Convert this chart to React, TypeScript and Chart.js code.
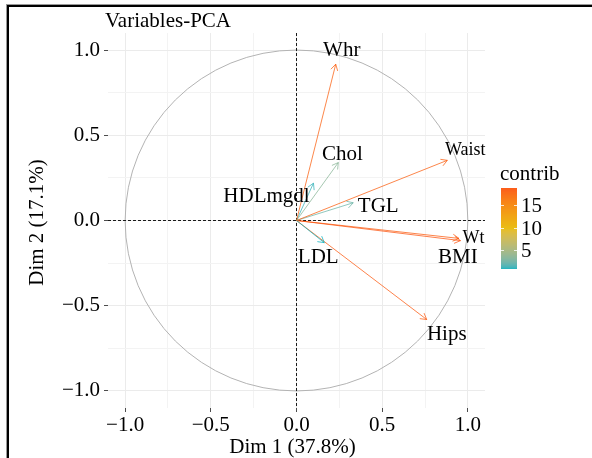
import React, { useEffect, useRef } from 'react';
import { Chart, registerables } from 'chart.js';

Chart.register(...registerables);

// ---- data ----
const VARIABLES = ['Whr', 'Chol', 'Waist', 'TGL', 'HDLmgdl', 'LDL', 'Wt', 'BMI', 'Hips'];
const DIM1 = [0.229, 0.244, 0.88, 0.331, 0.099, 0.162, 0.957, 0.948, 0.76];
const DIM2 = [0.917, 0.34, 0.353, 0.104, 0.219, -0.13, -0.118, -0.105, -0.581];
const CONTRIB = [18.1, 3.5, 18.2, 2.4, 1.2, 0.9, 18.8, 18.4, 18.5];
const AXIS_TICKS = [-1, -0.5, 0, 0.5, 1];
const LEGEND_TICKS = [5, 10, 15];
const GRADIENT = ['#00AFBB', '#E7B800', '#FC4E07'];
const TITLE = 'Variables-PCA';
const X_TITLE = 'Dim 1 (37.8%)';
const Y_TITLE = 'Dim 2 (17.1%)';
const LEGEND_TITLE = 'contrib';

// ---- label placement (pixel offsets from arrow tip: dx to text centre, dy to baseline) ----
const LABEL_STYLE: Record<string, { dx: number; dy: number; size: number }> = {
  Whr: { dx: 6, dy: -8, size: 21 },
  Chol: { dx: 4, dy: -3, size: 21 },
  Waist: { dx: 18, dy: -5, size: 18 },
  TGL: { dx: 25, dy: 9, size: 21 },
  HDLmgdl: { dx: -47, dy: 19, size: 21 },
  LDL: { dx: -6, dy: 20, size: 21 },
  Wt: { dx: 13, dy: 2, size: 18 },
  BMI: { dx: -1, dy: 24.5, size: 21 },
  Hips: { dx: 20, dy: 20, size: 21 },
};

const FONT = '"Liberation Serif", "Times New Roman", serif';
const ARROW_ALPHA = 0.72;

// ---- colour helpers (Lab interpolation like ggplot's gradientn) ----
function hexToRgb(h: string) {
  return [parseInt(h.slice(1, 3), 16), parseInt(h.slice(3, 5), 16), parseInt(h.slice(5, 7), 16)];
}
function toLin(c: number) {
  c /= 255;
  return c <= 0.04045 ? c / 12.92 : Math.pow((c + 0.055) / 1.055, 2.4);
}
function fromLin(c: number) {
  const v = c <= 0.0031308 ? 12.92 * c : 1.055 * Math.pow(c, 1 / 2.4) - 0.055;
  return Math.round(Math.max(0, Math.min(1, v)) * 255);
}
const Xn = 0.95047, Yn = 1, Zn = 1.08883;
function f(t: number) {
  return t > 216 / 24389 ? Math.cbrt(t) : (24389 / 27 * t + 16) / 116;
}
function finv(t: number) {
  const t3 = t * t * t;
  return t3 > 216 / 24389 ? t3 : (116 * t - 16) / (24389 / 27);
}
function rgbToLab(rgb: number[]) {
  const R = toLin(rgb[0]), G = toLin(rgb[1]), B = toLin(rgb[2]);
  const X = (0.4124564 * R + 0.3575761 * G + 0.1804375 * B) / Xn;
  const Y = (0.2126729 * R + 0.7151522 * G + 0.072175 * B) / Yn;
  const Z = (0.0193339 * R + 0.119192 * G + 0.9503041 * B) / Zn;
  const fx = f(X), fy = f(Y), fz = f(Z);
  return [116 * fy - 16, 500 * (fx - fy), 200 * (fy - fz)];
}
function labToRgb(lab: number[], alpha = 1) {
  const fy = (lab[0] + 16) / 116;
  const fx = fy + lab[1] / 500;
  const fz = fy - lab[2] / 200;
  const X = finv(fx) * Xn, Y = finv(fy) * Yn, Z = finv(fz) * Zn;
  const R = 3.2404542 * X - 1.5371385 * Y - 0.4985314 * Z;
  const G = -0.969266 * X + 1.8760108 * Y + 0.041556 * Z;
  const B = 0.0556434 * X - 0.2040259 * Y + 1.0572252 * Z;
  return `rgba(${fromLin(R)},${fromLin(G)},${fromLin(B)},${alpha})`;
}
const LABS = GRADIENT.map((c) => rgbToLab(hexToRgb(c)));
const CMIN = Math.min(...CONTRIB);
const CMAX = Math.max(...CONTRIB);
function colorFor(v: number, alpha = 1) {
  const t = Math.max(0, Math.min(1, (v - CMIN) / (CMAX - CMIN)));
  const seg = t * (LABS.length - 1);
  const i = Math.min(LABS.length - 2, Math.floor(seg));
  const u = seg - i;
  const a = LABS[i], b = LABS[i + 1];
  return labToRgb([a[0] + (b[0] - a[0]) * u, a[1] + (b[1] - a[1]) * u, a[2] + (b[2] - a[2]) * u], alpha);
}

function isMajor(v: number) {
  return AXIS_TICKS.some((t) => Math.abs(t - v) < 1e-9);
}
function fmt(v: number) {
  const s = Math.abs(v).toFixed(1);
  return v < -1e-9 ? '\u2212' + s : s;
}

const pcaPlugin = {
  id: 'pcaDecor',
  beforeDatasetsDraw(chart: any) {
    const { ctx, chartArea: a, scales } = chart;
    const x = scales.x, y = scales.y;
    const cx = x.getPixelForValue(0), cy = y.getPixelForValue(0);
    const rx = x.getPixelForValue(1) - cx;
    const ry = cy - y.getPixelForValue(1);
    ctx.save();
    ctx.beginPath();
    ctx.ellipse(cx, cy, rx, ry, 0, 0, Math.PI * 2);
    ctx.strokeStyle = '#B3B3B3';
    ctx.lineWidth = 1;
    ctx.stroke();
    ctx.setLineDash([3, 2]);
    ctx.strokeStyle = '#1A1A1A';
    ctx.beginPath();
    ctx.moveTo(a.left, cy);
    ctx.lineTo(a.right, cy);
    ctx.moveTo(cx, a.top);
    ctx.lineTo(cx, a.bottom);
    ctx.stroke();
    ctx.restore();
  },
  afterDatasetsDraw(chart: any) {
    const { ctx, scales } = chart;
    const x = scales.x, y = scales.y;
    const ox = x.getPixelForValue(0), oy = y.getPixelForValue(0);
    ctx.save();
    VARIABLES.forEach((name, i) => {
      const tx = x.getPixelForValue(DIM1[i]);
      const ty = y.getPixelForValue(DIM2[i]);
      const ang = Math.atan2(ty - oy, tx - ox);
      const len = 7;
      const spread = Math.PI / 6;
      ctx.strokeStyle = colorFor(CONTRIB[i], ARROW_ALPHA);
      ctx.lineWidth = 1;
      ctx.beginPath();
      ctx.moveTo(tx - len * Math.cos(ang - spread), ty - len * Math.sin(ang - spread));
      ctx.lineTo(tx, ty);
      ctx.lineTo(tx - len * Math.cos(ang + spread), ty - len * Math.sin(ang + spread));
      ctx.stroke();
    });
    VARIABLES.forEach((name, i) => {
      const tx = x.getPixelForValue(DIM1[i]);
      const ty = y.getPixelForValue(DIM2[i]);
      const st = LABEL_STYLE[name];
      ctx.font = `${st.size}px ${FONT}`;
      ctx.fillStyle = '#000';
      ctx.textAlign = 'center';
      ctx.textBaseline = 'alphabetic';
      ctx.fillText(name, tx + st.dx, ty + st.dy);
    });
    ctx.restore();
  },
  afterDraw(chart: any) {
    const { ctx, chartArea: a } = chart;
    ctx.save();
    ctx.fillStyle = '#000';
    ctx.font = `21px ${FONT}`;
    // title
    ctx.textAlign = 'left';
    ctx.textBaseline = 'alphabetic';
    ctx.fillText(TITLE, 105, 27);
    // x title
    ctx.textAlign = 'center';
    ctx.fillText(X_TITLE, (a.left + a.right) / 2 - 4, 453);
    // y title
    ctx.save();
    ctx.translate(43, (a.top + a.bottom) / 2 + 2);
    ctx.rotate(-Math.PI / 2);
    ctx.textAlign = 'center';
    ctx.fillText(Y_TITLE, 0, 0);
    ctx.restore();

    // legend
    const bx = 501, bw = 16, bTop = 188, bBot = 269;
    ctx.textAlign = 'left';
    ctx.fillText(LEGEND_TITLE, 500, 180);
    const steps = bBot - bTop;
    for (let k = 0; k < steps; k++) {
      const v = CMIN + ((k + 0.5) / steps) * (CMAX - CMIN);
      ctx.fillStyle = colorFor(v, 0.92);
      ctx.fillRect(bx, bBot - k - 1, bw, 1);
    }
    const vToY = (v: number) => bBot - ((v - CMIN) / (CMAX - CMIN)) * (bBot - bTop);
    ctx.strokeStyle = 'rgba(255,255,255,0.8)';
    ctx.lineWidth = 1;
    LEGEND_TICKS.forEach((t) => {
      const yy = Math.round(vToY(t)) + 0.5;
      ctx.beginPath();
      ctx.moveTo(bx, yy);
      ctx.lineTo(bx + 3, yy);
      ctx.moveTo(bx + bw - 3, yy);
      ctx.lineTo(bx + bw, yy);
      ctx.stroke();
      ctx.fillStyle = '#000';
      ctx.fillText(String(t), bx + bw + 4, vToY(t) + 7);
    });

    // outer frame
    ctx.fillStyle = '#999';
    ctx.fillRect(7, 4, 585, 1);
    ctx.fillRect(6, 4, 1, 454);
    ctx.fillStyle = '#000';
    ctx.fillRect(7, 5, 585, 2);
    ctx.fillRect(7, 5, 2, 453);
    ctx.restore();
  },
};

export default function App() {
  const ref = useRef<HTMLCanvasElement | null>(null);
  useEffect(() => {
    if (!ref.current) return;
    const tickFont = { family: FONT, size: 21, lineHeight: 1 };
    const gridOpts = {
      color: (c: any) => (c.tick && isMajor(c.tick.value) ? '#EBEBEB' : '#F3F3F3'),
      tickColor: (c: any) => (c.tick && isMajor(c.tick.value) ? '#4D4D4D' : 'rgba(0,0,0,0)'),
      tickLength: 4,
      lineWidth: 1,
      drawTicks: true,
    };
    const chart = new Chart(ref.current, {
      type: 'scatter',
      data: {
        datasets: VARIABLES.map((v, i) => ({
          label: v,
          data: [
            { x: 0, y: 0 },
            { x: DIM1[i], y: DIM2[i] },
          ],
          showLine: true,
          borderColor: colorFor(CONTRIB[i], ARROW_ALPHA),
          backgroundColor: colorFor(CONTRIB[i], ARROW_ALPHA),
          borderWidth: 1,
          pointRadius: 0,
          pointHoverRadius: 0,
          fill: false,
        })),
      },
      options: {
        responsive: false,
        animation: false,
        events: [],
        layout: { padding: { left: 8, top: 33, right: 107, bottom: 20 } },
        plugins: {
          legend: { display: false },
          tooltip: { enabled: false },
          title: { display: false },
        },
        scales: {
          x: {
            type: 'linear',
            position: 'bottom',
            min: -1.1,
            max: 1.1,
            afterFit: (s: any) => {
              s.height = 30;
            },
            ticks: {
              stepSize: 0.25,
              includeBounds: false,
              autoSkip: false,
              maxRotation: 0,
              minRotation: 0,
              padding: 3,
              font: tickFont,
              color: '#000',
              callback: (v: any) => (isMajor(Number(v)) ? fmt(Number(v)) : ''),
            },
            grid: gridOpts,
            border: { display: false },
          },
          y: {
            type: 'linear',
            position: 'left',
            min: -1.1,
            max: 1.1,
            afterFit: (s: any) => {
              s.width = 100;
            },
            ticks: {
              stepSize: 0.25,
              includeBounds: false,
              autoSkip: false,
              padding: 4,
              font: tickFont,
              color: '#000',
              callback: (v: any) => (isMajor(Number(v)) ? fmt(Number(v)) : ''),
            },
            grid: gridOpts,
            border: { display: false },
          },
        },
      } as any,
      plugins: [pcaPlugin],
    });
    return () => chart.destroy();
  }, []);

  return (
    <div style={{ position: 'absolute', left: 0, top: 0, width: 592, height: 458, background: '#fff' }}>
      <canvas ref={ref} width={592} height={458} style={{ display: 'block', width: 592, height: 458 }} />
    </div>
  );
}
